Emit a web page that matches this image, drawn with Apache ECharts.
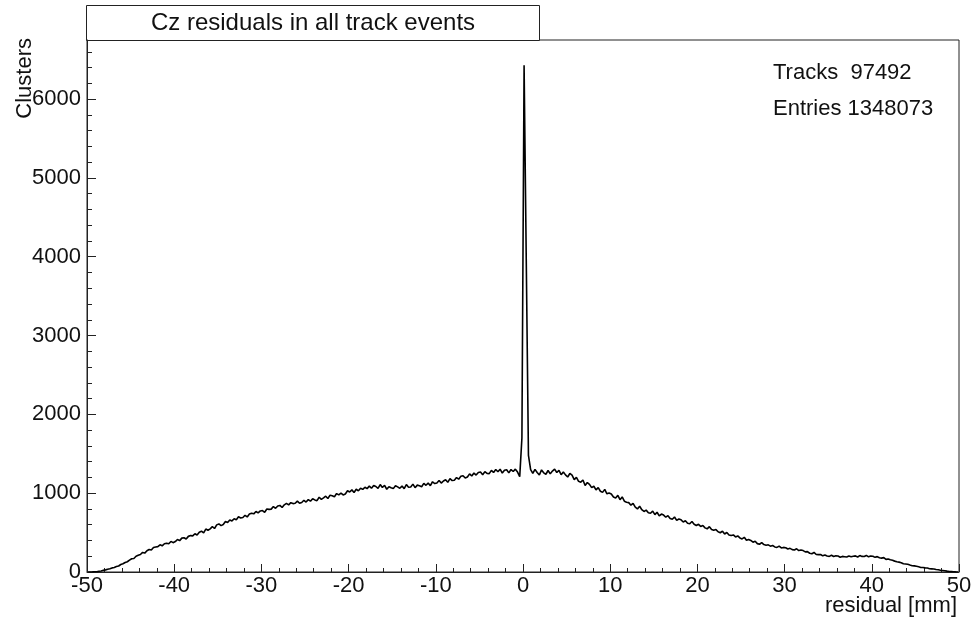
<!DOCTYPE html>
<html>
<head>
<meta charset="utf-8">
<title>Cz residuals in all track events</title>
<script src="https://cdn.jsdelivr.net/npm/echarts@6/dist/echarts.min.js"></script>
<style>
  html, body { margin: 0; padding: 0; background: #fff; }
  #chart { width: 977px; height: 623px; }
</style>
</head>
<body>
<div id="chart"></div>
<script>
// histogram: 400 bins of 0.25 mm from -50 to 50 (one row of 4 per mm)
const binWidth = 0.25;
const rangeMin = -50;
const clusters = [
  0, 0, 1, 3,            4, 10, 13, 21,         27, 36, 41, 52,         58, 70, 76, 95,
  104, 120, 130, 150,    168, 172, 200, 212,    222, 248, 240, 270,     285, 278, 310, 318,
  322, 345, 332, 358,    365, 358, 388, 372,    386, 412, 398, 430,     435, 418, 452, 462,
  458, 486, 470, 505,    518, 495, 545, 530,    548, 575, 552, 598,     610, 588, 602, 640,
  628, 660, 648, 676,    662, 700, 686, 692,    720, 698, 735, 745,     738, 768, 750, 775,
  780, 758, 800, 795,    798, 830, 808, 838,    845, 818, 852, 870,     852, 880, 868, 872,
  900, 872, 882, 910,    888, 918, 898, 930,    915, 905, 948, 922,     940, 962, 932, 975,
  968, 955, 995, 978,    1002, 978, 990, 1030,  1015, 1042, 1008, 1050, 1030, 1062, 1048, 1075,
  1058, 1090, 1062, 1098, 1085, 1060, 1110, 1072, 1100, 1050, 1082, 1068, 1058, 1095, 1080, 1062,
  1090, 1058, 1110, 1075, 1078, 1115, 1070, 1102, 1095, 1082, 1125, 1100, 1128, 1095, 1145, 1122,
  1130, 1162, 1128, 1155, 1170, 1138, 1185, 1160, 1165, 1198, 1178, 1215, 1222, 1192, 1205, 1245,
  1218, 1255, 1230, 1262, 1268, 1235, 1272, 1250, 1248, 1290, 1262, 1300, 1272, 1305, 1255, 1290,
  1298, 1258, 1300, 1275, 1305, 1268, 1210, 1700,
  6430, 3950, 1480, 1300, 1250, 1302, 1262, 1230, 1295, 1258, 1240, 1288, 1245, 1280, 1305, 1262,
  1290, 1235, 1270, 1232, 1205, 1250, 1228, 1172, 1200, 1150, 1140, 1168, 1098, 1135, 1112, 1070,
  1088, 1042, 1070, 1025, 1010, 1048, 992, 1002, 990, 952, 940, 972,   918, 952, 898, 885,
  880, 848, 872, 822,    800, 835, 790, 768,    785, 752, 745, 772,     728, 758, 712, 735,
  722, 695, 715, 680,    670, 698, 655, 672,    662, 635, 650, 618,     612, 640, 605, 590,
  605, 578, 590, 560,    548, 575, 540, 530,    538, 510, 498, 518,     482, 502, 470, 462,
  470, 445, 458, 432,    420, 440, 402, 412,    400, 378, 390, 360,     352, 372, 348, 340,
  345, 328, 336, 318,    312, 328, 305, 312,    308, 292, 300, 284,     280, 295, 272, 278,
  272, 255, 258, 238,    232, 248, 222, 220,    222, 205, 215, 202,     198, 212, 196, 205,
  202, 188, 198, 194,    190, 202, 194, 200,    205, 190, 208, 198,     196, 210, 192, 202,
  200, 186, 195, 180,    176, 182, 160, 166,    155, 148, 138, 130,     125, 118, 104, 102,
  98, 88, 80, 78,        72, 66, 58, 58,        52, 50, 42, 40,         38, 32, 28, 22,
  20, 16, 11, 7,         5, 3, 1, 0
];

const titleText = 'Cz residuals in all track events';
const statsLabels = ['Tracks ', 'Entries'];
const statsValues = ['97492', '1348073'];
const xTitle = 'residual [mm]';
const yTitle = 'Clusters';

const font = "'Liberation Sans', Arial, sans-serif";

const chart = echarts.init(document.getElementById('chart'));

const seriesData = clusters.map((c, i) => [rangeMin + (i + 0.5) * binWidth, c]);

const option = {
  animation: false,
  backgroundColor: '#fff',
  grid: {
    left: 87,
    right: 18,
    top: 40,
    bottom: 51,
    show: true,
    borderColor: '#222',
    borderWidth: 1,
    backgroundColor: 'transparent'
  },
  xAxis: {
    type: 'value',
    min: -50,
    max: 50,
    interval: 10,
    axisLine: { onZero: false, lineStyle: { color: '#222', width: 1 } },
    axisTick: { inside: true, length: 8, lineStyle: { color: '#222' } },
    minorTick: { show: true, splitNumber: 5, length: 4, lineStyle: { color: '#222' } },
    splitLine: { show: false },
    axisLabel: { color: '#111', fontFamily: font, fontSize: 22, margin: 3 }
  },
  yAxis: {
    type: 'value',
    min: 0,
    max: 6750,
    interval: 1000,
    axisLine: { show: true, onZero: false, lineStyle: { color: '#222', width: 1 } },
    axisTick: { show: true, inside: true, length: 9, lineStyle: { color: '#222' } },
    minorTick: { show: true, splitNumber: 5, length: 5, lineStyle: { color: '#222' } },
    splitLine: { show: false },
    axisLabel: {
      color: '#111',
      fontFamily: font,
      fontSize: 22,
      margin: 6,
      showMaxLabel: false,
      formatter: v => String(v)
    }
  },
  series: [
    {
      name: 'Cz residuals',
      type: 'line',
      data: seriesData,
      showSymbol: false,
      symbol: 'none',
      lineStyle: { color: '#000', width: 1.6 }
    }
  ],
  graphic: [
    {
      type: 'rect',
      shape: { x: 86.5, y: 5.5, width: 453, height: 35 },
      style: { fill: '#fff', stroke: '#222', lineWidth: 1 }
    },
    {
      type: 'text',
      x: 313,
      y: 23,
      style: {
        text: titleText,
        font: '24px ' + font,
        fill: '#111',
        textAlign: 'center',
        textVerticalAlign: 'middle'
      }
    },
    {
      type: 'text',
      x: 773,
      y: 73,
      style: {
        text: statsLabels[0] + ' ' + statsValues[0],
        font: '22px ' + font,
        fill: '#111',
        textAlign: 'left',
        textVerticalAlign: 'middle'
      }
    },
    {
      type: 'text',
      x: 773,
      y: 109,
      style: {
        text: statsLabels[1] + ' ' + statsValues[1],
        font: '22px ' + font,
        fill: '#111',
        textAlign: 'left',
        textVerticalAlign: 'middle'
      }
    },
    {
      type: 'text',
      x: 957,
      y: 606,
      style: {
        text: xTitle,
        font: '22px ' + font,
        fill: '#111',
        textAlign: 'right',
        textVerticalAlign: 'middle'
      }
    },
    {
      type: 'text',
      x: 25,
      y: 38,
      rotation: Math.PI / 2,
      style: {
        text: yTitle,
        font: '22px ' + font,
        fill: '#111',
        textAlign: 'right',
        textVerticalAlign: 'middle'
      }
    }
  ]
};

chart.setOption(option);
</script>
</body>
</html>
